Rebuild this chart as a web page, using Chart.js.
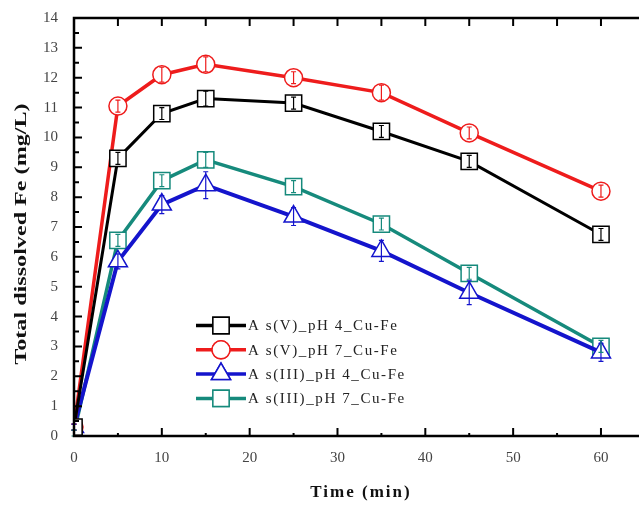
<!DOCTYPE html>
<html>
<head>
<meta charset="utf-8">
<script src="https://cdn.jsdelivr.net/npm/chart.js@4.4.0/dist/chart.umd.min.js"></script>
<style>
  html, body { margin: 0; padding: 0; background: #fff; }
  #wrap { width: 639px; height: 506px; }
</style>
</head>
<body>
<div id="wrap"><canvas id="c" width="639" height="506"></canvas></div>
<script>
const times = [0, 5, 10, 15, 25, 35, 45, 60];
const labels = ['A s(V)_pH 4_Cu-Fe', 'A s(V)_pH 7_Cu-Fe', 'A s(III)_pH 4_Cu-Fe', 'A s(III)_pH 7_Cu-Fe'];
const asV_pH4 = [0.3, 9.3, 10.8, 11.3, 11.15, 10.2, 9.2, 6.75];
const asV_pH7 = [0.3, 11.05, 12.1, 12.45, 12.0, 11.5, 10.15, 8.2];
const asIII_pH4 = [0.3, 5.85, 7.75, 8.4, 7.35, 6.2, 4.8, 2.8];
const asIII_pH7 = [0.1, 6.55, 8.55, 9.25, 8.35, 7.1, 5.45, 3.0];
const errV4 = [0.1, 0.2, 0.2, 0.25, 0.2, 0.2, 0.2, 0.2];
const errV7 = [0.1, 0.2, 0.25, 0.25, 0.2, 0.25, 0.2, 0.2];
const errIII4 = [0.1, 0.25, 0.3, 0.45, 0.3, 0.35, 0.4, 0.3];
const errIII7 = [0.1, 0.2, 0.2, 0.25, 0.2, 0.2, 0.2, 0.2];
const yTicks = [0, 1, 2, 3, 4, 5, 6, 7, 8, 9, 10, 11, 12, 13, 14];
const xTicks = [0, 10, 20, 30, 40, 50, 60];
const xTitle = 'Time (min)';
const yTitle = 'Total dissolved Fe (mg/L)';

const serif = '"Liberation Serif", "DejaVu Serif", serif';

function series(label, values, errors, color, style, radius, width) {
    return {
        label: label,
        data: times.map((t, i) => ({ x: t, y: values[i] })),
        errors: errors,
        borderColor: color,
        backgroundColor: color,
        borderWidth: width,
        pointStyle: style,
        pointRadius: radius,
        pointBorderWidth: 1.5,
        pointBorderColor: color,
        pointBackgroundColor: '#ffffff',
        tension: 0
    };
}

// error bars inside the markers
const errorBars = {
    id: 'errorBars',
    afterDatasetsDraw(chart) {
        const ctx = chart.ctx;
        const y = chart.scales.y;
        chart.data.datasets.forEach((ds, di) => {
            const meta = chart.getDatasetMeta(di);
            ctx.save();
            ctx.strokeStyle = ds.borderColor;
            ctx.lineWidth = 1.2;
            meta.data.forEach((pt, i) => {
                const v = ds.data[i].y, e = ds.errors[i];
                const top = y.getPixelForValue(v + e), bot = y.getPixelForValue(v - e);
                ctx.beginPath();
                ctx.moveTo(pt.x, top); ctx.lineTo(pt.x, bot);
                ctx.moveTo(pt.x - 2.5, top); ctx.lineTo(pt.x + 2.5, top);
                ctx.moveTo(pt.x - 2.5, bot); ctx.lineTo(pt.x + 2.5, bot);
                ctx.stroke();
            });
            ctx.restore();
        });
    }
};

// frame with inward ticks, plus stretched axis titles
const frame = {
    id: 'frame',
    afterDraw(chart) {
        const ctx = chart.ctx, a = chart.chartArea;
        const x = chart.scales.x, y = chart.scales.y;
        ctx.save();
        ctx.strokeStyle = '#000';
        ctx.lineWidth = 2.5;
        ctx.beginPath();
        ctx.moveTo(chart.width, a.top); ctx.lineTo(a.left, a.top);
        ctx.lineTo(a.left, a.bottom); ctx.lineTo(chart.width, a.bottom);
        ctx.stroke();
        ctx.lineWidth = 2;
        ctx.beginPath();
        for (let v = 0; v <= 14; v += 0.5) {
            const py = y.getPixelForValue(v);
            const len = Number.isInteger(v) ? 8 : 5;
            ctx.moveTo(a.left, py); ctx.lineTo(a.left + len, py);
        }
        for (let v = 5; v <= 60; v += 5) {
            const px = x.getPixelForValue(v);
            ctx.moveTo(px, a.top); ctx.lineTo(px, a.top + 8);
            const len = v % 10 === 0 ? 8 : 3;
            ctx.moveTo(px, a.bottom); ctx.lineTo(px, a.bottom - len);
        }
        ctx.stroke();

        ctx.fillStyle = '#111';
        ctx.font = 'bold 17px ' + serif;
        ctx.textAlign = 'center';
        ctx.textBaseline = 'middle';
        ctx.letterSpacing = '2px';
        ctx.fillText(xTitle, 361, 493);

        ctx.letterSpacing = '0px';
        ctx.translate(22, 234);
        ctx.rotate(-Math.PI / 2);
        ctx.scale(1.42, 1);
        ctx.fillText(yTitle, 0, 0);
        ctx.restore();
    }
};

// legend with line + marker
const lineLegend = {
    id: 'lineLegend',
    afterDraw(chart) {
        const ctx = chart.ctx;
        const x0 = 196, y0 = 325.5, gap = 24.3;
        ctx.save();
        chart.data.datasets.forEach((ds, i) => {
            const py = y0 + i * gap;
            ctx.strokeStyle = ds.borderColor;
            ctx.lineWidth = 3.5;
            ctx.beginPath();
            ctx.moveTo(x0, py); ctx.lineTo(x0 + 50, py);
            ctx.stroke();
            ctx.fillStyle = '#fff';
            ctx.lineWidth = 1.5;
            Chart.helpers.drawPoint(ctx, {
                pointStyle: ds.pointStyle, radius: ds.pointRadius, rotation: 0, borderWidth: 1.5
            }, x0 + 25, py);
            ctx.fill(); ctx.stroke();
            ctx.fillStyle = '#222';
            ctx.font = '15px ' + serif;
            ctx.letterSpacing = '1.6px';
            ctx.textBaseline = 'middle';
            ctx.fillText(ds.label, x0 + 52, py + 1);
        });
        ctx.restore();
    }
};

new Chart(document.getElementById('c'), {
    type: 'line',
    data: {
        datasets: [
            series(labels[0], asV_pH4, errV4, '#000000', 'rect', 11.5, 3),
            series(labels[1], asV_pH7, errV7, '#ee1c1c', 'circle', 9, 3.5),
            series(labels[2], asIII_pH4, errIII4, '#1414cc', 'triangle', 11, 4),
            series(labels[3], asIII_pH7, errIII7, '#168a7c', 'rect', 11.5, 3.5)
        ]
    },
    options: {
        responsive: false,
        animation: false,
        layout: { padding: { top: 18, right: 0, left: 0, bottom: 0 } },
        plugins: { legend: { display: false }, tooltip: { enabled: false } },
        scales: {
            x: {
                type: 'linear',
                min: 0,
                max: 62.85,
                afterBuildTicks: s => { s.ticks = xTicks.map(v => ({ value: v })); },
                afterFit: s => { s.height = 70; },
                grid: { display: false },
                border: { display: false },
                ticks: { color: '#444', font: { family: serif, size: 15 }, padding: 5, maxRotation: 0 }
            },
            y: {
                min: 0,
                max: 14,
                afterBuildTicks: s => { s.ticks = yTicks.map(v => ({ value: v })); },
                afterFit: s => { s.width = 74; },
                grid: { display: false },
                border: { display: false },
                ticks: { color: '#444', font: { family: serif, size: 15 }, padding: 8 }
            }
        }
    },
    plugins: [errorBars, frame, lineLegend]
});
</script>
</body>
</html>
